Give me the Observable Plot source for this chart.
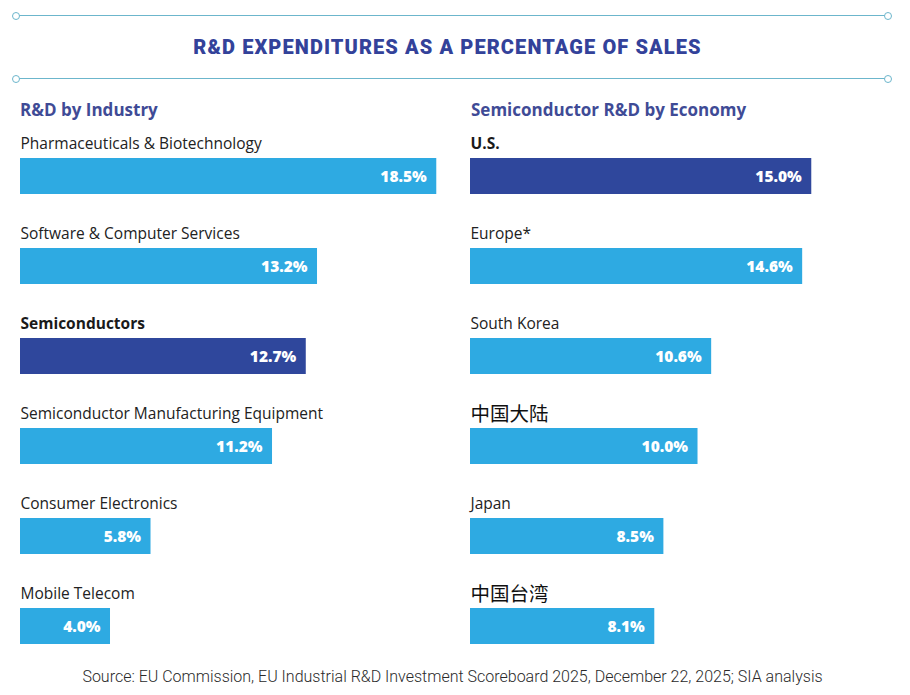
<!DOCTYPE html>
<html>
<head>
<meta charset="utf-8">
<script src="https://cdn.jsdelivr.net/npm/d3@7"></script>
<script src="https://cdn.jsdelivr.net/npm/@observablehq/plot@0.6"></script>
<style>
  html, body { margin: 0; padding: 0; background: #fff; }
  #page { position: relative; width: 910px; height: 695px; font-family: "Open Sans", sans-serif; }
  .rule { position: absolute; left: 16px; width: 872px; height: 0; border-top: 1.5px solid #6cb6cc; }
  .rule::before, .rule::after {
    content: ""; position: absolute; top: -4.5px; width: 6px; height: 6px;
    border: 1.2px solid #6cb6cc; border-radius: 50%; background: #fff;
  }
  .rule::before { left: -4px; }
  .rule::after { right: -4px; }
  #title {
    position: absolute; left: 0; width: 895px; top: 34px; text-align: center;
    font-family: Roboto, sans-serif; font-weight: 900; font-size: 20px; letter-spacing: 1.1px;
    color: #33429a; line-height: 26px;
  }
  .heading {
    position: absolute; top: 98px; font-family: "Open Sans", sans-serif; font-weight: 700;
    font-size: 17px; color: #3f4b96; line-height: 24px;
  }
  .panel { position: absolute; top: 125px; }
  #source {
    position: absolute; left: 0; width: 905px; top: 666px; text-align: center;
    font-family: Roboto, sans-serif; font-weight: 300; font-size: 16px; color: #2a2a2a; line-height: 22px;
  }
</style>
</head>
<body>
<div id="page">
  <div class="rule" style="top:15px"></div>
  <div id="title">R&amp;D EXPENDITURES AS A PERCENTAGE OF SALES</div>
  <div class="rule" style="top:78px"></div>
  <div class="heading" style="left:20px">R&amp;D by Industry</div>
  <div class="heading" style="left:471px">Semiconductor R&amp;D by Economy</div>
  <div class="panel" id="left" style="left:0"></div>
  <div class="panel" id="right" style="left:450px"></div>
  <div id="source">Source: EU Commission, EU Industrial R&amp;D Investment Scoreboard 2025, December 22, 2025; SIA analysis</div>
</div>
<script>
// R&D intensity (% of sales) by industry
const industries = [
  "Pharmaceuticals & Biotechnology",
  "Software & Computer Services",
  "Semiconductors",
  "Semiconductor Manufacturing Equipment",
  "Consumer Electronics",
  "Mobile Telecom"
];
const industryValues = [18.5, 13.2, 12.7, 11.2, 5.8, 4.0];

// Semiconductor R&D intensity (% of sales) by economy
const economies = ["U.S.", "Europe*", "South Korea", "中国大陆", "Japan", "中国台湾"];
const economyValues = [15.0, 14.6, 10.6, 10.0, 8.5, 8.1];

// Rows drawn in the darker highlight colour with a bold label
const highlighted = ["Semiconductors", "U.S."];

const LIGHT = "#2eaae2";
const DARK = "#2f479c";

function panel(names, values, xMax) {
  const data = names.map((name, i) => ({name, value: values[i]}));
  const isCJK = s => /[\u4e00-\u9fff]/.test(s);
  const isHi = d => highlighted.includes(d.name);
  const labelOpts = {
    y: "name", text: "name", frameAnchor: "left", textAnchor: "start",
    dy: -32, fontSize: 15.5, fill: "#222"
  };
  return Plot.plot({
    width: 450,
    height: 525,
    marginLeft: 20,
    marginRight: 0,
    marginTop: 33,
    marginBottom: 6,
    x: {domain: [0, xMax], axis: null},
    y: {domain: names, axis: null, paddingInner: 0.6, paddingOuter: 0},
    style: {fontFamily: "'Open Sans', sans-serif", background: "transparent", overflow: "visible"},
    marks: [
      Plot.barX(data, {
        x: "value", y: "name",
        fill: d => isHi(d) ? DARK : LIGHT
      }),
      Plot.text(data.filter(d => !isCJK(d.name) && !isHi(d)), labelOpts),
      Plot.text(data.filter(isHi), {...labelOpts, fontWeight: 700, fill: "#1a1a1a"}),
      Plot.text(data.filter(d => isCJK(d.name)), {
        ...labelOpts, dy: -32, fontSize: 19.5, fill: "#111",
        fontFamily: "'Noto Sans CJK SC', sans-serif"
      }),
      Plot.text(data, {
        x: "value", y: "name", text: d => d.value.toFixed(1) + "%",
        textAnchor: "end", dx: -10, dy: 1, fill: "white",
        fontSize: 15.5, fontWeight: 800
      })
    ]
  });
}

document.getElementById("left").append(panel(industries, industryValues, 19.11));
document.getElementById("right").append(panel(economies, economyValues, 18.9));
</script>
</body>
</html>
